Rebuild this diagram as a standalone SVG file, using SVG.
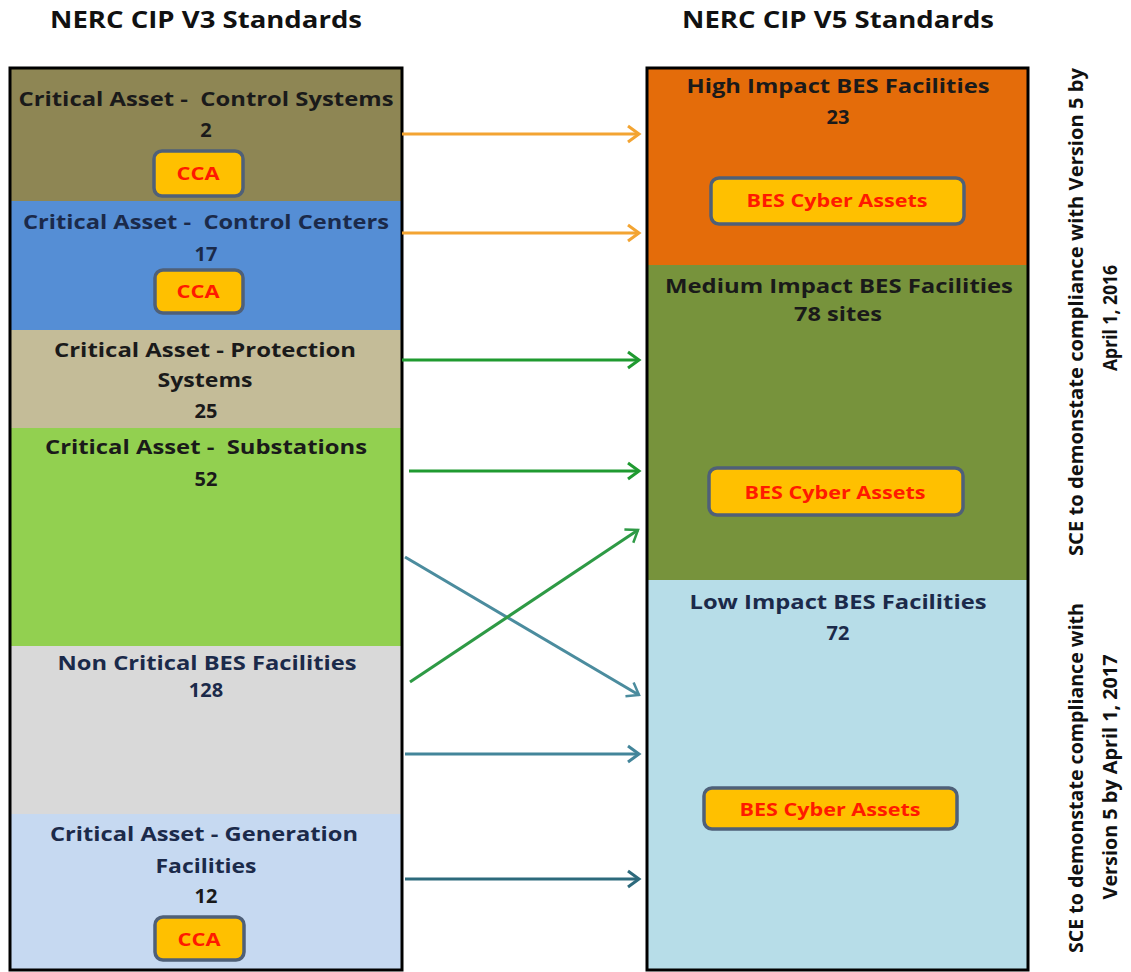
<svg xmlns="http://www.w3.org/2000/svg" width="1131" height="972" viewBox="0 0 1131 972">
<style>
text{font-family:"Open Sans","Noto Sans","Liberation Sans",sans-serif;font-weight:700;text-anchor:middle}
.title{font-size:23px;fill:#111}
.lbl{font-size:20px;fill:#1a1a1a}
.lblb{font-size:20px;fill:#1b2a4a}
.badge{fill:#FFC000;stroke:#4F6078;stroke-width:3.5}
.badget{font-size:18px;fill:#FF1A00}
.side{font-size:19px;fill:#111}
.frame{fill:none;stroke:#000;stroke-width:3}
.arr{fill:none;stroke-width:3}
</style>
<defs>
<marker id="mOr" markerUnits="userSpaceOnUse" markerWidth="18" markerHeight="22" refX="14" refY="10" orient="auto"><path d="M3,2 L14,10 L3,18" fill="none" stroke="#F3A432" stroke-width="3"/></marker>
<marker id="mGr" markerUnits="userSpaceOnUse" markerWidth="18" markerHeight="22" refX="14" refY="10" orient="auto"><path d="M3,2 L14,10 L3,18" fill="none" stroke="#1F9A30" stroke-width="3"/></marker>
<marker id="mGr2" markerUnits="userSpaceOnUse" markerWidth="18" markerHeight="22" refX="14" refY="10" orient="auto"><path d="M3,2 L14,10 L3,18" fill="none" stroke="#2E9A45" stroke-width="2.5"/></marker>
<marker id="mTl" markerUnits="userSpaceOnUse" markerWidth="18" markerHeight="22" refX="14" refY="10" orient="auto"><path d="M3,2 L14,10 L3,18" fill="none" stroke="#4B8C9E" stroke-width="2.5"/></marker>
<marker id="mTl2" markerUnits="userSpaceOnUse" markerWidth="18" markerHeight="22" refX="14" refY="10" orient="auto"><path d="M3,2 L14,10 L3,18" fill="none" stroke="#43859A" stroke-width="3"/></marker>
<marker id="mDt" markerUnits="userSpaceOnUse" markerWidth="18" markerHeight="22" refX="14" refY="10" orient="auto"><path d="M3,2 L14,10 L3,18" fill="none" stroke="#2D6A7C" stroke-width="3"/></marker>
</defs>
<rect width="1131" height="972" fill="#fff"/>

<g id="titles">
<text class="title" x="206" y="28" textLength="312" lengthAdjust="spacingAndGlyphs">NERC CIP V3 Standards</text>
<text class="title" x="838" y="28" textLength="312" lengthAdjust="spacingAndGlyphs">NERC CIP V5 Standards</text>
</g>

<g id="v3-control-systems">
<rect x="10" y="68" width="392" height="133" fill="#8E8654"/>
<text class="lbl" x="206" y="106" xml:space="preserve" textLength="375" lengthAdjust="spacingAndGlyphs">Critical Asset -  Control Systems</text>
<text class="lbl" x="206" y="137">2</text>
<rect class="badge" x="154" y="151" width="89" height="45" rx="8"/>
<text class="badget" x="198" y="180" textLength="43" lengthAdjust="spacingAndGlyphs">CCA</text>
</g>
<g id="v3-control-centers">
<rect x="10" y="201" width="392" height="129" fill="#558ED5"/>
<text class="lblb" x="206" y="229" xml:space="preserve" textLength="366" lengthAdjust="spacingAndGlyphs">Critical Asset -  Control Centers</text>
<text class="lblb" x="206" y="261">17</text>
<rect class="badge" x="155" y="270" width="88" height="43" rx="8"/>
<text class="badget" x="198" y="298" textLength="43" lengthAdjust="spacingAndGlyphs">CCA</text>
</g>
<g id="v3-protection">
<rect x="10" y="330" width="392" height="98" fill="#C4BC98"/>
<text class="lbl" x="205" y="357" textLength="302" lengthAdjust="spacingAndGlyphs">Critical Asset - Protection</text>
<text class="lbl" x="205" y="387" textLength="95" lengthAdjust="spacingAndGlyphs">Systems</text>
<text class="lbl" x="206" y="418">25</text>
</g>
<g id="v3-substations">
<rect x="10" y="428" width="392" height="218" fill="#92D050"/>
<text class="lbl" x="206" y="454" xml:space="preserve" textLength="322" lengthAdjust="spacingAndGlyphs">Critical Asset -  Substations</text>
<text class="lbl" x="206" y="486">52</text>
</g>
<g id="v3-noncritical">
<rect x="10" y="646" width="392" height="168" fill="#D9D9D9"/>
<text class="lblb" x="207" y="670" textLength="299" lengthAdjust="spacingAndGlyphs">Non Critical BES Facilities</text>
<text class="lblb" x="206" y="697">128</text>
</g>
<g id="v3-generation">
<rect x="10" y="814" width="392" height="156" fill="#C6D9F1"/>
<text class="lblb" x="204" y="841" textLength="308" lengthAdjust="spacingAndGlyphs">Critical Asset - Generation</text>
<text class="lblb" x="206" y="873" textLength="101" lengthAdjust="spacingAndGlyphs">Facilities</text>
<text class="lbl" x="206" y="903">12</text>
<rect class="badge" x="155" y="917" width="89" height="43" rx="8"/>
<text class="badget" x="199" y="946" textLength="43" lengthAdjust="spacingAndGlyphs">CCA</text>
</g>
<rect class="frame" x="10" y="68" width="392" height="902"/>

<g id="v5-high">
<rect x="647" y="68" width="381" height="197" fill="#E46C0A"/>
<text class="lbl" x="838" y="93" textLength="303" lengthAdjust="spacingAndGlyphs">High Impact BES Facilities</text>
<text class="lbl" x="838" y="124">23</text>
<rect class="badge" x="711" y="178" width="253" height="46" rx="8"/>
<text class="badget" x="837" y="207" textLength="181" lengthAdjust="spacingAndGlyphs">BES Cyber Assets</text>
</g>
<g id="v5-medium">
<rect x="647" y="265" width="381" height="315" fill="#77933C"/>
<text class="lbl" x="839" y="293" textLength="348" lengthAdjust="spacingAndGlyphs">Medium Impact BES Facilities</text>
<text class="lbl" x="838" y="321" textLength="88" lengthAdjust="spacingAndGlyphs">78 sites</text>
<rect class="badge" x="709" y="468" width="254" height="47" rx="8"/>
<text class="badget" x="835" y="499" textLength="181" lengthAdjust="spacingAndGlyphs">BES Cyber Assets</text>
</g>
<g id="v5-low">
<rect x="647" y="580" width="381" height="390" fill="#B7DDE8"/>
<text class="lblb" x="838" y="609" textLength="297" lengthAdjust="spacingAndGlyphs">Low Impact BES Facilities</text>
<text class="lblb" x="838" y="640">72</text>
<rect class="badge" x="704" y="788" width="253" height="41" rx="8"/>
<text class="badget" x="830" y="816" textLength="181" lengthAdjust="spacingAndGlyphs">BES Cyber Assets</text>
</g>
<rect class="frame" x="647" y="68" width="381" height="902"/>

<g id="connectors">
<line class="arr" x1="402" y1="134" x2="639" y2="134" stroke="#F3A432" marker-end="url(#mOr)"/>
<line class="arr" x1="402" y1="233" x2="639" y2="233" stroke="#F3A432" marker-end="url(#mOr)"/>
<line class="arr" x1="402" y1="360" x2="639" y2="360" stroke="#1F9A30" marker-end="url(#mGr)"/>
<line class="arr" x1="409" y1="471" x2="639" y2="471" stroke="#1F9A30" marker-end="url(#mGr)"/>
<line class="arr" x1="405" y1="557" x2="639" y2="695" stroke="#4B8C9E" stroke-width="2.5" marker-end="url(#mTl)"/>
<line class="arr" x1="410" y1="682" x2="638" y2="530" stroke="#2E9A45" stroke-width="2.5" marker-end="url(#mGr2)"/>
<line class="arr" x1="405" y1="754" x2="639" y2="754" stroke="#43859A" marker-end="url(#mTl2)"/>
<line class="arr" x1="405" y1="879" x2="639" y2="879" stroke="#2D6A7C" marker-end="url(#mDt)"/>
</g>

<g id="notes">
<text class="side" transform="translate(1083,312) rotate(-90)" textLength="488" lengthAdjust="spacingAndGlyphs">SCE to demonstate compliance with Version 5 by</text>
<text class="side" transform="translate(1117,318) rotate(-90)" textLength="106" lengthAdjust="spacingAndGlyphs">April 1, 2016</text>
<text class="side" transform="translate(1083,778) rotate(-90)" textLength="350" lengthAdjust="spacingAndGlyphs">SCE to demonstate compliance with</text>
<text class="side" transform="translate(1117,777) rotate(-90)" textLength="245" lengthAdjust="spacingAndGlyphs">Version 5 by April 1, 2017</text>
</g>
</svg>
